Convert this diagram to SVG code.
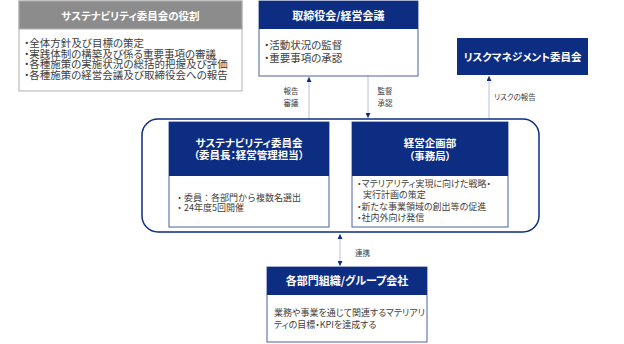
<svg xmlns="http://www.w3.org/2000/svg" width="624" height="344" viewBox="0 0 624 344">
<defs>
<style>
text{font-family:"Noto Sans CJK JP","Noto Sans",sans-serif;}
.t{fill:#fff;font-weight:bold;font-size:10.5px;text-anchor:middle;font-feature-settings:"palt";}
.b{fill:#404040;font-size:10.5px;font-feature-settings:"palt";}
.bn{fill:#404040;font-size:9px;}
.bp{fill:#404040;font-size:9px;font-feature-settings:"palt";}
.l{fill:#404040;font-size:7.5px;font-feature-settings:"palt";}
.hd{fill:#0d2d82;}
.bx{fill:#fff;stroke:#4a5f9e;stroke-width:1;}
.cn{stroke:#b4c0dc;stroke-width:1;fill:none;}
</style>
<marker id="ah" viewBox="0 0 6 6" refX="6" refY="3" markerWidth="5" markerHeight="5" orient="auto-start-reverse" markerUnits="userSpaceOnUse">
<path d="M0,0 L6,3 L0,6 Z" fill="#0d2d82"/>
</marker>
</defs>
<rect width="624" height="344" fill="#fff"/>

<g id="connectors">
<line class="cn" x1="309" y1="119" x2="309" y2="77" marker-end="url(#ah)"/>
<line class="cn" x1="368" y1="76" x2="368" y2="118" marker-end="url(#ah)"/>
<line class="cn" x1="489" y1="119" x2="489" y2="76" marker-end="url(#ah)"/>
<line class="cn" x1="340" y1="234" x2="340" y2="266" marker-start="url(#ah)" marker-end="url(#ah)"/>
<text class="l" x="291" y="94" text-anchor="middle">報告</text>
<text class="l" x="291" y="106" text-anchor="middle">審議</text>
<text class="l" x="385" y="94" text-anchor="middle">監督</text>
<text class="l" x="385" y="106" text-anchor="middle">承認</text>
<text class="l" x="494" y="100">リスクの報告</text>
<text class="l" x="355" y="256">連携</text>
</g>

<g id="role">
<rect x="19" y="1" width="223" height="90" fill="#fff" stroke="#b0b0b0"/>
<rect x="19" y="1" width="223" height="28" fill="#8c8c8c" stroke="#b0b0b0"/>
<text class="t" x="130.5" y="19.5">サステナビリティ委員会の役割</text>
<text class="b" x="24" y="47">・全体方針及び目標の策定</text>
<text class="b" x="24" y="57.5">・実践体制の構築及び係る重要事項の審議</text>
<text class="b" x="24" y="68">・各種施策の実施状況の総括的把握及び評価</text>
<text class="b" x="24" y="78.5">・各種施策の経営会議及び取締役会への報告</text>
</g>

<g id="board">
<rect class="bx" x="259" y="1" width="159" height="75"/>
<rect class="hd" x="259" y="1" width="159" height="28"/>
<text class="t" x="338.5" y="19.5" style="font-size:11px">取締役会/経営会議</text>
<text class="b" x="264" y="48.5">・活動状況の監督</text>
<text class="b" x="264" y="62">・重要事項の承認</text>
</g>

<g id="risk">
<rect class="hd" x="457" y="38" width="131" height="37"/>
<text class="t" x="522.5" y="60.5">リスクマネジメント委員会</text>
</g>

<g id="container">
<rect x="142" y="119" width="397" height="113" rx="16" fill="#fff" stroke="#0d2d82" stroke-width="1.5"/>
</g>

<g id="committee">
<rect class="bx" x="169" y="122" width="160" height="105"/>
<rect class="hd" x="169" y="122" width="160" height="54"/>
<text class="t" x="249" y="146.5">サステナビリティ委員会</text>
<text class="t" x="249" y="159">（委員長：経営管理担当）</text>
<text class="bn" x="175" y="200.5">・委員：各部門から複数名選出</text>
<text class="bn" x="175" y="211">・24年度5回開催</text>
</g>

<g id="planning">
<rect class="bx" x="352" y="122" width="156" height="105"/>
<rect class="hd" x="352" y="122" width="156" height="54"/>
<text class="t" x="430" y="146.5">経営企画部</text>
<text class="t" x="430" y="160">（事務局）</text>
<text class="bp" x="357" y="186.5">・マテリアリティ実現に向けた戦略・</text>
<text class="bp" x="363" y="198">実行計画の策定</text>
<text class="bp" x="357" y="210">・新たな事業領域の創出等の促進</text>
<text class="bp" x="357" y="221">・社内外向け発信</text>
</g>

<g id="divisions">
<rect class="bx" x="267" y="267" width="160" height="75"/>
<rect class="hd" x="267" y="267" width="160" height="28"/>
<text class="t" x="347" y="285" style="font-size:11px">各部門組織/グループ会社</text>
<text class="bp" x="274" y="315.5">業務や事業を通じて関連するマテリアリ</text>
<text class="bp" x="274" y="327.5">ティの目標・KPIを達成する</text>
</g>
</svg>
